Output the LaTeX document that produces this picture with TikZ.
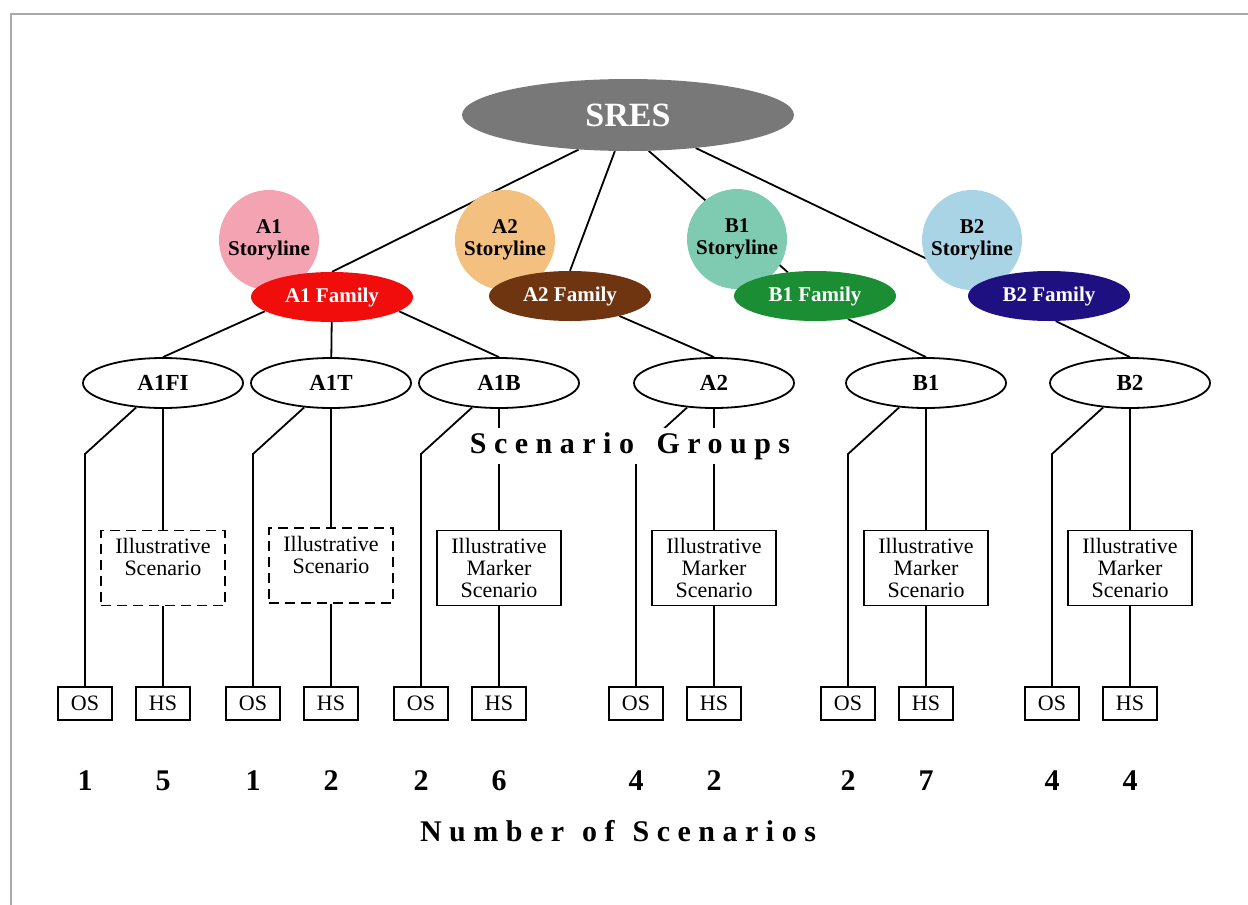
\documentclass[tikz,border=0pt]{standalone}
\usepackage{fontspec}
\setmainfont{Liberation Serif}
\newfontfamily\spacedfont[LetterSpace=25]{Liberation Serif}
\usetikzlibrary{shapes.geometric,backgrounds}

\definecolor{framegray}{HTML}{AAAAAA}
\definecolor{sresgray}{HTML}{787878}
\definecolor{storyAone}{HTML}{F4A3B3}
\definecolor{storyAtwo}{HTML}{F4C07F}
\definecolor{storyBone}{HTML}{7FCBB2}
\definecolor{storyBtwo}{HTML}{A8D4E6}
\definecolor{famAone}{HTML}{F20D0D}
\definecolor{famAtwo}{HTML}{6E3510}
\definecolor{famBone}{HTML}{1B8E34}
\definecolor{famBtwo}{HTML}{1E1080}

\tikzset{
  sres/.style={ellipse, fill=sresgray, minimum width=332pt, minimum height=72pt,
    inner sep=0pt, text=white, font=\fontsize{34}{36}\selectfont\bfseries},
  story/.style={circle, minimum size=100pt, inner sep=0pt, align=center,
    font=\fontsize{21}{22}\selectfont\bfseries},
  family/.style={ellipse, minimum width=162pt, minimum height=50pt, inner sep=0pt,
    text=white, font=\fontsize{21}{22}\selectfont\bfseries},
  group/.style={ellipse, draw, line width=1.8pt, fill=white, minimum width=160pt,
    minimum height=50pt, inner sep=0pt, font=\fontsize{23}{26}\selectfont\bfseries},
  markbox/.style={rectangle, draw, line width=1.9pt, fill=white, minimum width=124pt,
    minimum height=75pt, inner sep=2pt, align=center, font=\fontsize{22}{22}\selectfont},
  dashbox/.style={markbox, dash pattern=on 10pt off 6pt},
  runbox/.style={rectangle, draw, line width=1.9pt, fill=white, minimum width=54pt,
    minimum height=33pt, inner sep=0pt, font=\fontsize{22}{22}\selectfont},
  count/.style={font=\fontsize{30}{32}\selectfont\bfseries},
  bigtitle/.style={font=\spacedfont\bfseries\fontsize{30}{32}\selectfont},
  conn/.style={line width=1.8pt},
}

\begin{document}
\begin{tikzpicture}[x=1pt, y=-1pt]
  \useasboundingbox (0,0) rectangle (1248,905);
  % 枠
  \draw[framegray, line width=2pt] (11,905) -- (11,14) -- (1248,14);

  % 最上位
  \node[sres] (SRES) at (628,115) {SRES};

  % ストーリーライン
  \node[story, fill=storyAone] (A1story) at (269,240) {A1\\Storyline};
  \node[story, fill=storyAtwo] (A2story) at (505,240) {A2\\Storyline};
  \node[story, fill=storyBone] (B1story) at (737,239) {B1\\Storyline};
  \node[story, fill=storyBtwo] (B2story) at (972,240) {B2\\Storyline};

  % ファミリー
  \node[family, fill=famAone] (A1fam) at (332,297) {A1 Family};
  \node[family, fill=famAtwo] (A2fam) at (570,296) {A2 Family};
  \node[family, fill=famBone] (B1fam) at (815,296) {B1 Family};
  \node[family, fill=famBtwo] (B2fam) at (1049,296) {B2 Family};

  % シナリオグループ
  \node[group] (A1FI) at (163,383) {A1FI};
  \node[group] (A1T) at (331,383) {A1T};
  \node[group] (A1B) at (499,383) {A1B};
  \node[group] (A2) at (714,383) {A2};
  \node[group] (B1) at (926,383) {B1};
  \node[group] (B2) at (1130,383) {B2};

  % 代表シナリオ
  \node[dashbox] (A1FI-ill) at (163,568) {Illustrative\\Scenario\\\phantom{Scenario}};
  \node[dashbox] (A1T-ill) at (331,565.5) {Illustrative\\Scenario\\\phantom{Scenario}};
  \node[markbox] (A1B-ill) at (499,568) {Illustrative\\Marker\\Scenario};
  \node[markbox] (A2-ill) at (714,568) {Illustrative\\Marker\\Scenario};
  \node[markbox] (B1-ill) at (926,568) {Illustrative\\Marker\\Scenario};
  \node[markbox] (B2-ill) at (1130,568) {Illustrative\\Marker\\Scenario};

  % OS, HS と数
  \foreach \g/\x/\os/\hs in {A1FI/163/1/5, A1T/331/1/2, A1B/499/2/6,
                             A2/714/4/2, B1/926/2/7, B2/1130/4/4} {
    \node[runbox] (\g-os) at (\x-78,703.5) {OS};
    \node[runbox] (\g-hs) at (\x,703.5) {HS};
    \node[count] (\g-osnum) at (\x-78,781) {\os};
    \node[count] (\g-hsnum) at (\x,781) {\hs};
    \coordinate (\g-bend) at (\x-78,454);
  }

  \node[bigtitle, fill=white, inner sep=4pt] (groupstitle) at (630,446)
    {Scenario\hspace{0.75em}Groups};
  \node[bigtitle] (numtitle) at (618,831) {Number\hspace{0.6em}of\hspace{0.6em}Scenarios};

  % 線
  \begin{pgfonlayer}{background}
    \draw[conn] (SRES.-145) -- (A1fam.north);
    \draw[conn] (SRES.-110) -- (A2fam.north);
    \draw[conn] (SRES.-60) -- (B1fam);
    \draw[conn] (SRES.-26) -- (B2fam.170);
    \draw[conn] (A1fam.192) -- (A1FI.north);
    \draw[conn] (A1fam) -- (A1T);
    \draw[conn] (A1fam.-12) -- (A1B.north);
    \draw[conn] (A2fam.-22) -- (A2.north);
    \draw[conn] (B1fam.-35) -- (B1.north);
    \draw[conn] (B2fam.-75) -- (B2.north);
    \foreach \g in {A1FI,A1T,A1B,A2,B1,B2} {
      \draw[conn] (\g) -- (\g-bend) -- (\g-os);
      \draw[conn] (\g) -- (\g-ill) -- (\g-hs);
    }
  \end{pgfonlayer}
\end{tikzpicture}
\end{document}
